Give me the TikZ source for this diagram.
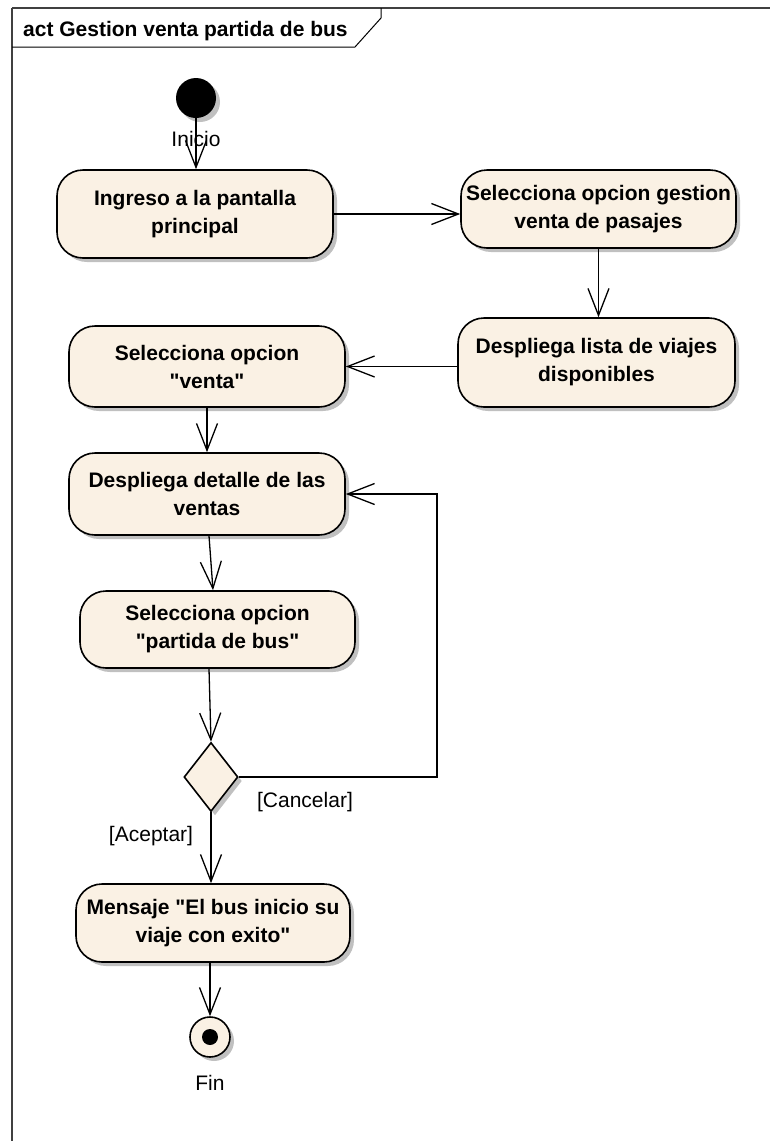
\documentclass[tikz,border=0pt]{standalone}
\usepackage{fontspec}
\setmainfont{Liberation Sans}
\usetikzlibrary{arrows.meta,shapes.geometric,shadows,calc}
\definecolor{actfill}{RGB}{250,241,228}
\definecolor{shad}{RGB}{192,192,192}
\begin{document}
\begin{tikzpicture}[x=1pt,y=-1pt,
  shad/.style={drop shadow={shadow xshift=4pt, shadow yshift=-4pt, fill=shad, opacity=1}},
  act/.style={draw, line width=1.6pt, fill=actfill, rounded corners=26pt, align=center,
    font=\bfseries\fontsize{21}{28}\selectfont, inner sep=0pt, shad},
  flow/.style={line width=1.3pt, -{Straight Barb[length=27pt,width=21pt]}},
  lbl/.style={font=\fontsize{21}{24}\selectfont, inner sep=0pt}]
\useasboundingbox (0,0) rectangle (770,1141);
% frame
\draw[line width=1.5pt, black!75] (12,1141) -- (12,8);
\draw[line width=2pt, black!75] (12,8) -- (770,8);
\draw[line width=1pt] (12,47) -- (355,47) -- (381,18) -- (381,8);
\node[font=\bfseries\fontsize{21}{24}\selectfont, anchor=west, inner sep=0pt] (title) at (23,31) {act Gestion venta partida de bus};
% nodes
\node[circle, fill=black, minimum size=40pt, inner sep=0pt, shad] (ini) at (196,98) {};
\node[act, minimum width=276pt, minimum height=88pt] (A) at (195,214) {Ingreso a la pantalla\\principal};
\node[act, minimum width=275pt, minimum height=78pt] (B) at (598.5,209) {Selecciona opcion gestion\\venta de pasajes};
\node[act, minimum width=277pt, minimum height=89pt] (C) at (596.5,362.5) {Despliega lista de viajes\\disponibles};
\node[act, minimum width=276pt, minimum height=81pt] (D) at (207,366.5) {Selecciona opcion\\\textquotedbl venta\textquotedbl};
\node[act, minimum width=276pt, minimum height=82pt] (E) at (207,494) {Despliega detalle de las\\ventas};
\node[act, minimum width=275pt, minimum height=77pt] (F) at (217.5,629.5) {Selecciona opcion\\\textquotedbl partida de bus\textquotedbl};
\node[diamond, draw, line width=1.6pt, fill=actfill, minimum width=54pt, minimum height=69pt, inner sep=0pt, shad] (dia) at (211,777) {};
\node[act, minimum width=274pt, minimum height=78pt] (G) at (213,923) {Mensaje \textquotedbl El bus inicio su\\viaje con exito\textquotedbl};
\node[circle, draw, line width=1.6pt, fill=actfill, minimum size=40pt, inner sep=0pt, shad] (fin) at (210,1037) {};
\node[circle, fill=black, minimum size=16pt, inner sep=0pt] (findot) at (fin.center) {};
% labels
\node[lbl] (inicio) at (196,139) {Inicio};
\node[lbl] (cancel) at (305,802) {[Cancelar]};
\node[lbl] (acept) at (151,836) {[Aceptar]};
\node[lbl] (finl) at (210,1083) {Fin};
% connectors
\draw[flow] (ini) -- (A.north -| ini);
\draw[flow] (A.east) -- (A.east -| B.west);
\draw[flow] (B.south) -- (B.south |- C.north);
\draw[flow] (C.west |- D.east) -- (D.east);
\draw[flow] (D.south) -- (E.north);
\draw[flow] ($(E.south)+(2,0)$) -- ($(F.north)+(-4.5,0)$);
\draw[flow] ($(F.south)+(-8.5,0)$) -- (dia.north);
\coordinate (lp) at (437,494);
\draw[flow] (dia.east) -| (lp) -- (E.east);
\draw[flow] (dia.south) -- (dia.south |- G.north);
\draw[flow] (G.south -| fin.north) -- (fin.north);
\end{tikzpicture}
\end{document}
